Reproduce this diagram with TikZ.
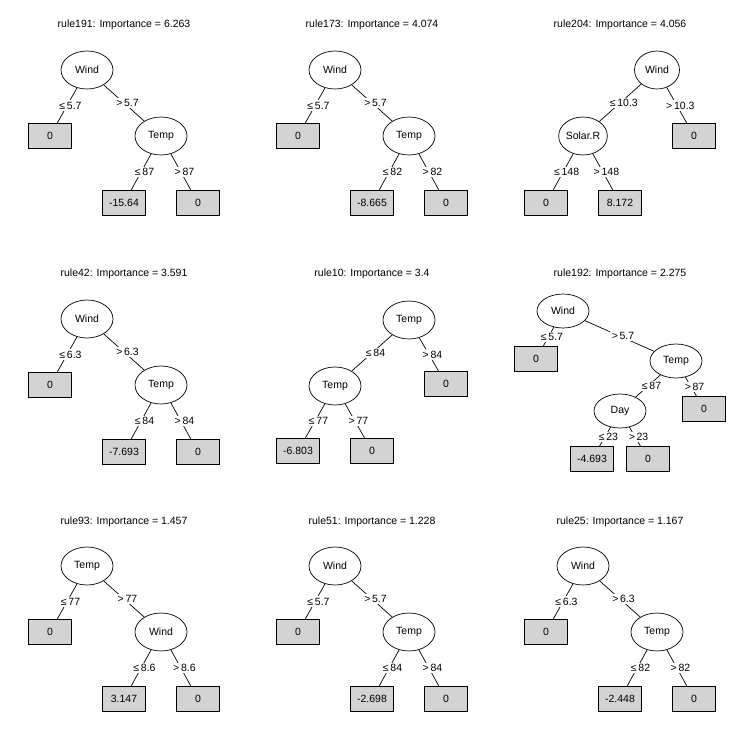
\documentclass[tikz,border=0pt]{standalone}
\usepackage{fontspec}
\setmainfont{Liberation Sans}
\usetikzlibrary{shapes.geometric}
\definecolor{leafgrey}{RGB}{211,211,211}

\begin{document}
\begin{tikzpicture}[
        x=1pt, y=-1pt, line width=0.7pt,
        every node/.style={font=\fontsize{10.5}{12}\selectfont},
        splitnode/.style={ellipse, draw, minimum width=52pt, minimum height=38pt, inner sep=0pt},
        leafnode/.style={rectangle, draw, fill=leafgrey, minimum width=43pt,
                         minimum height=24.5pt, inner sep=0pt},
        edgelbl/.style={fill=white, inner sep=1.5pt, midway, xshift=3.5pt},
        ttl/.style={inner sep=0pt}
    ]
        \useasboundingbox (0,0) rectangle (744,744);

        % rule191
        \begin{scope}
            \node[ttl] (ti1) at (124,25) {rule191: Importance = 6.263};
            \node[splitnode] (rt1) at (87,70) {Wind};
            \node[leafnode] (lfa1) at (50,136) {0};
            \node[splitnode] (in1) at (161,136) {Temp};
            \node[leafnode] (lfb1) at (124,203) {-15.64};
            \node[leafnode] (lfc1) at (198,203) {0};
            \draw (rt1) -- node[edgelbl] {≤\,5.7} (lfa1);
            \draw (rt1) -- node[edgelbl] {>\,5.7} (in1);
            \draw (in1) -- node[edgelbl] {≤\,87} (lfb1);
            \draw (in1) -- node[edgelbl] {>\,87} (lfc1);
        \end{scope}

        % rule173
        \begin{scope}[shift={(248,0)}]
            \node[ttl] (ti2) at (124,25) {rule173: Importance = 4.074};
            \node[splitnode] (rt2) at (87,70) {Wind};
            \node[leafnode] (lfa2) at (50,136) {0};
            \node[splitnode] (in2) at (161,136) {Temp};
            \node[leafnode] (lfb2) at (124,203) {-8.665};
            \node[leafnode] (lfc2) at (198,203) {0};
            \draw (rt2) -- node[edgelbl] {≤\,5.7} (lfa2);
            \draw (rt2) -- node[edgelbl] {>\,5.7} (in2);
            \draw (in2) -- node[edgelbl] {≤\,82} (lfb2);
            \draw (in2) -- node[edgelbl] {>\,82} (lfc2);
        \end{scope}

        % rule204
        \begin{scope}[shift={(496,0)}, splitnode/.append style={minimum width=45pt}]
            \node[ttl] (ti3) at (124,25) {rule204: Importance = 4.056};
            \node[splitnode] (rt3) at (161,70) {Wind};
            \node[splitnode] (in3) at (87,136) {Solar.R};
            \node[leafnode] (lfc3) at (198,136) {0};
            \node[leafnode] (lfa3) at (50,203) {0};
            \node[leafnode] (lfb3) at (124,203) {8.172};
            \draw (rt3) -- node[edgelbl] {≤\,10.3} (in3);
            \draw (rt3) -- node[edgelbl] {>\,10.3} (lfc3);
            \draw (in3) -- node[edgelbl] {≤\,148} (lfa3);
            \draw (in3) -- node[edgelbl] {>\,148} (lfb3);
        \end{scope}

        % rule42
        \begin{scope}[shift={(0,249)}]
            \node[ttl] (ti4) at (124,25) {rule42: Importance = 3.591};
            \node[splitnode] (rt4) at (87,70) {Wind};
            \node[leafnode] (lfa4) at (50,136) {0};
            \node[splitnode] (in4) at (161,136) {Temp};
            \node[leafnode] (lfb4) at (124,203) {-7.693};
            \node[leafnode] (lfc4) at (198,203) {0};
            \draw (rt4) -- node[edgelbl] {≤\,6.3} (lfa4);
            \draw (rt4) -- node[edgelbl] {>\,6.3} (in4);
            \draw (in4) -- node[edgelbl] {≤\,84} (lfb4);
            \draw (in4) -- node[edgelbl] {>\,84} (lfc4);
        \end{scope}

        % rule10
        \begin{scope}[shift={(248,249)}]
            \node[ttl] (ti5) at (124,25) {rule10: Importance = 3.4};
            \node[splitnode] (rt5) at (161,71) {Temp};
            \node[splitnode] (in5) at (87,137) {Temp};
            \node[leafnode] (lfc5) at (198,135) {0};
            \node[leafnode] (lfa5) at (50,202) {-6.803};
            \node[leafnode] (lfb5) at (124,202) {0};
            \draw (rt5) -- node[edgelbl] {≤\,84} (in5);
            \draw (rt5) -- node[edgelbl] {>\,84} (lfc5);
            \draw (in5) -- node[edgelbl] {≤\,77} (lfa5);
            \draw (in5) -- node[edgelbl] {>\,77} (lfb5);
        \end{scope}

        % rule192
        \begin{scope}[shift={(496,249)}, splitnode/.append style={minimum height=34pt}]
            \node[ttl] (ti6) at (124,25) {rule192: Importance = 2.275};
            \node[splitnode] (rt6) at (67,62) {Wind};
            \node[leafnode] (lfa6) at (40,110) {0};
            \node[splitnode] (in6) at (180,112) {Temp};
            \node[leafnode] (lfd6) at (208,160) {0};
            \node[splitnode] (dy6) at (124,162) {Day};
            \node[leafnode] (lfb6) at (96,210) {-4.693};
            \node[leafnode] (lfc6) at (152,210) {0};
            \draw (rt6) -- node[edgelbl] {≤\,5.7} (lfa6);
            \draw (rt6) -- node[edgelbl] {>\,5.7} (in6);
            \draw (in6) -- node[edgelbl] {≤\,87} (dy6);
            \draw (in6) -- node[edgelbl] {>\,87} (lfd6);
            \draw (dy6) -- node[edgelbl] {≤\,23} (lfb6);
            \draw (dy6) -- node[edgelbl] {>\,23} (lfc6);
        \end{scope}

        % rule93
        \begin{scope}[shift={(0,497)}]
            \node[ttl] (ti7) at (124,25) {rule93: Importance = 1.457};
            \node[splitnode] (rt7) at (87,69) {Temp};
            \node[leafnode] (lfa7) at (50,135) {0};
            \node[splitnode] (in7) at (161,135) {Wind};
            \node[leafnode] (lfb7) at (124,202) {3.147};
            \node[leafnode] (lfc7) at (198,202) {0};
            \draw (rt7) -- node[edgelbl] {≤\,77} (lfa7);
            \draw (rt7) -- node[edgelbl] {>\,77} (in7);
            \draw (in7) -- node[edgelbl] {≤\,8.6} (lfb7);
            \draw (in7) -- node[edgelbl] {>\,8.6} (lfc7);
        \end{scope}

        % rule51
        \begin{scope}[shift={(248,497)}]
            \node[ttl] (ti8) at (124,25) {rule51: Importance = 1.228};
            \node[splitnode] (rt8) at (87,69) {Wind};
            \node[leafnode] (lfa8) at (50,135) {0};
            \node[splitnode] (in8) at (161,135) {Temp};
            \node[leafnode] (lfb8) at (124,202) {-2.698};
            \node[leafnode] (lfc8) at (198,202) {0};
            \draw (rt8) -- node[edgelbl] {≤\,5.7} (lfa8);
            \draw (rt8) -- node[edgelbl] {>\,5.7} (in8);
            \draw (in8) -- node[edgelbl] {≤\,84} (lfb8);
            \draw (in8) -- node[edgelbl] {>\,84} (lfc8);
        \end{scope}

        % rule25
        \begin{scope}[shift={(496,497)}]
            \node[ttl] (ti9) at (124,25) {rule25: Importance = 1.167};
            \node[splitnode] (rt9) at (87,69) {Wind};
            \node[leafnode] (lfa9) at (50,135) {0};
            \node[splitnode] (in9) at (161,135) {Temp};
            \node[leafnode] (lfb9) at (124,202) {-2.448};
            \node[leafnode] (lfc9) at (198,202) {0};
            \draw (rt9) -- node[edgelbl] {≤\,6.3} (lfa9);
            \draw (rt9) -- node[edgelbl] {>\,6.3} (in9);
            \draw (in9) -- node[edgelbl] {≤\,82} (lfb9);
            \draw (in9) -- node[edgelbl] {>\,82} (lfc9);
        \end{scope}
    \end{tikzpicture}
\end{document}
